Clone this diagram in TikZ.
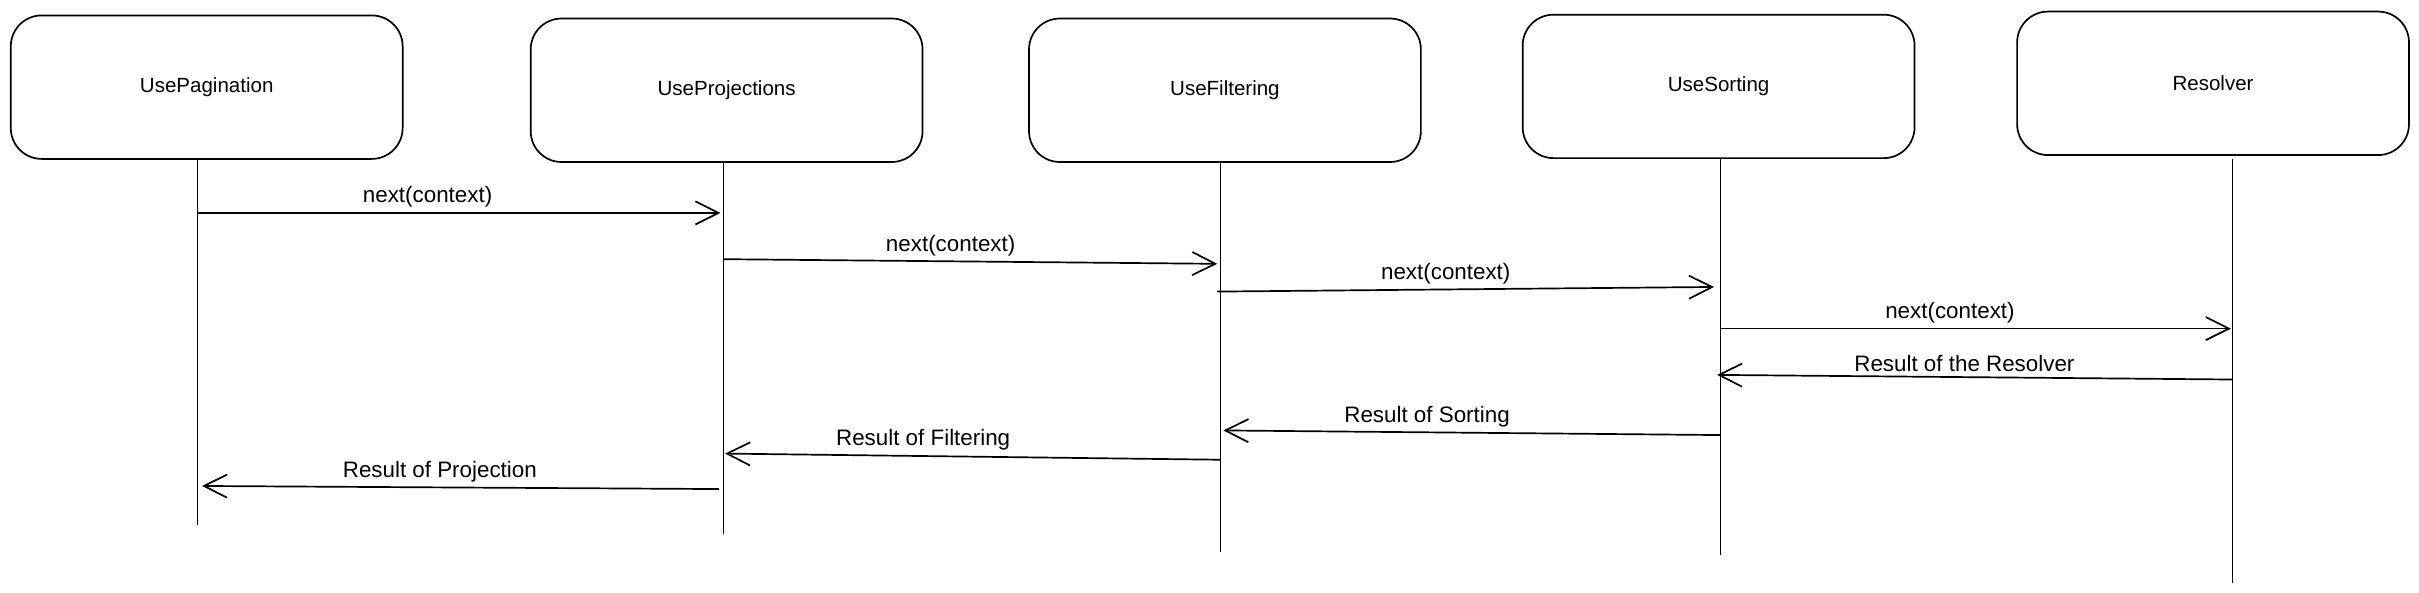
\documentclass[tikz,border=0pt]{standalone}
\usepackage{fontspec}
\setmainfont{Liberation Sans}
\usetikzlibrary{arrows.meta}
\begin{document}
\begin{tikzpicture}[x=1pt,y=-1pt,
  actor/.style={draw, rounded corners=20pt, line width=1.1pt, minimum width=254pt, minimum height=93pt, inner sep=0pt, font=\fontsize{13.3}{15}\selectfont},
  life/.style={line width=1pt},
  msg/.style={line width=1.1pt, -{Straight Barb[length=15pt,width=15pt,line width=1.1pt]}},
  lbl/.style={font=\fontsize{14.5}{16}\selectfont, inner sep=0pt, above=3pt}]
\useasboundingbox (0,0) rectangle (1568,383.8);
% actors
\node[actor] (pag)  at (134,56.5)  {UsePagination};
\node[actor] (proj) at (471,58.5)  {UseProjections};
\node[actor] (filt) at (794,58.5)  {UseFiltering};
\node[actor] (sort) at (1114,56)   {UseSorting};
\node[actor] (res)  at (1434.5,54) {Resolver};
% lifeline ends
\coordinate (e1) at (128,340);
\coordinate (e2) at (469,346);
\coordinate (e3) at (791,358);
\coordinate (e4) at (1115.3,360);
\coordinate (e5) at (1447,378);
\draw[life] (pag.south -| e1) -- (e1);
\draw[life] (proj.south -| e2) -- (e2);
\draw[life] (filt.south -| e3) -- (e3);
\draw[life] (sort.south -| e4) -- (e4);
\draw[life] (1447,103) -- (e5);
% message end points
\coordinate (m1s) at (128,138);  \coordinate (m1e) at (467,138);
\coordinate (m2s) at (469,168);  \coordinate (m2e) at (789,171);
\coordinate (m3s) at (789,189);  \coordinate (m3e) at (1111,186);
\coordinate (m4s) at (1115,213); \coordinate (m4e) at (1446,213);
\coordinate (r1s) at (1447,246); \coordinate (r1e) at (1113,243);
\coordinate (r2s) at (1115,282); \coordinate (r2e) at (793,279);
\coordinate (r3s) at (791,298);  \coordinate (r3e) at (470,294);
\coordinate (r4s) at (466,317);  \coordinate (r4e) at (131,315);
% messages
\draw[msg] (m1s) -- node[lbl, pos=0.44] {next(context)} (m1e);
\draw[msg] (m2s) -- node[lbl, pos=0.46] {next(context)} (m2e);
\draw[msg] (m3s) -- node[lbl, pos=0.46] {next(context)} (m3e);
\draw[msg] (m4s) -- node[lbl, pos=0.45] {next(context)} (m4e);
\draw[msg] (r1s) -- node[lbl, pos=0.52] {Result of the Resolver} (r1e);
\draw[msg] (r2s) -- node[lbl, pos=0.59] {Result of Sorting} (r2e);
\draw[msg] (r3s) -- node[lbl, pos=0.6] {Result of Filtering} (r3e);
\draw[msg] (r4s) -- node[lbl, pos=0.54] {Result of Projection} (r4e);
\end{tikzpicture}
\end{document}
